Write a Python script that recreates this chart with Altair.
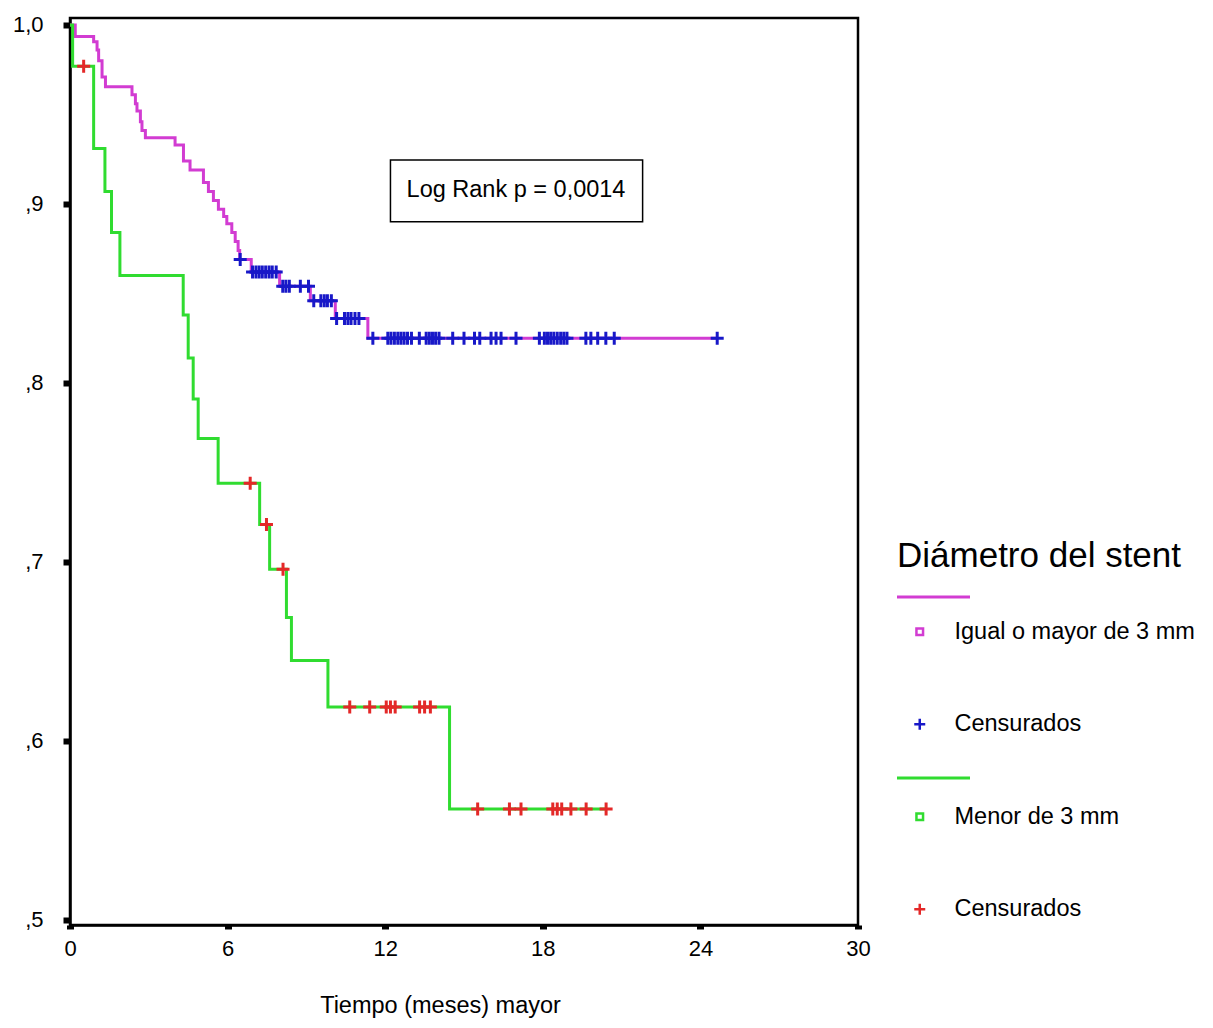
import altair as alt
import pandas as pd

# ---- data ----
# Group "Igual o mayor de 3 mm": step times (months) and survival after each step
big_times = [0.00, 0.20, 0.90, 1.03, 1.09, 1.22, 1.35, 2.36, 2.49, 2.55, 2.68, 2.74,
             2.87, 4.00, 4.32, 4.57, 5.08, 5.27, 5.46, 5.65, 5.85, 5.97, 6.16, 6.29,
             6.40, 6.46, 6.90, 7.98, 9.15, 10.10, 11.34]
big_surv = [1.000, 0.9935, 0.9907, 0.986, 0.980, 0.971, 0.9655, 0.961, 0.956, 0.952,
            0.946, 0.941, 0.937, 0.933, 0.924, 0.919, 0.912, 0.907, 0.902, 0.897,
            0.893, 0.889, 0.884, 0.879, 0.874, 0.869, 0.862, 0.854, 0.846, 0.836, 0.825]
big_end = 24.64
big_censored = [6.48, 6.95, 7.08, 7.20, 7.32, 7.45, 7.58, 7.70, 7.85, 8.10, 8.22, 8.35,
                8.77, 9.08, 9.28, 9.55, 9.68, 9.80, 9.95, 10.15, 10.45, 10.58, 10.70,
                10.85, 11.00, 11.53, 12.10, 12.22, 12.35, 12.48, 12.60, 12.72, 12.85,
                13.00, 13.30, 13.56, 13.68, 13.80, 13.92, 14.05, 14.57, 15.00, 15.40,
                15.60, 16.03, 16.22, 16.41, 16.98, 17.87, 18.06, 18.18, 18.30, 18.42,
                18.55, 18.68, 18.80, 18.92, 19.64, 19.83, 20.09, 20.40, 20.72, 24.64]

# Group "Menor de 3 mm"
small_times = [0.00, 0.10, 0.90, 1.33, 1.58, 1.90, 4.31, 4.50, 4.69, 4.88, 5.64, 7.22,
               7.60, 8.24, 8.43, 9.82, 14.45]
small_surv = [1.000, 0.977, 0.931, 0.907, 0.884, 0.860, 0.838, 0.814, 0.791, 0.769,
              0.744, 0.721, 0.696, 0.669, 0.645, 0.619, 0.562]
small_end = 20.41
small_censored = [0.52, 6.86, 7.48, 8.11, 10.65, 11.41, 12.04, 12.20, 12.38, 13.31,
                  13.50, 13.72, 15.52, 16.73, 17.17, 18.38, 18.55, 18.72, 19.07, 19.65,
                  20.41]

legend_labels = ["Igual o mayor de 3 mm", "Censurados", "Menor de 3 mm", "Censurados "]
legend_colors = ["#D23CD2", "#1818C8", "#30DC30", "#E42828"]

x_ticks = [0, 6, 12, 18, 24, 30]
y_ticks = [0.5, 0.6, 0.7, 0.8, 0.9, 1.0]

log_rank_text = ["Log Rank p = 0,0014"]
log_box_t = [12.2, 21.8]
log_box_s = [0.9246, 0.8901]
log_text_pos = [16.98, 0.9039]

# ---- tables ----
def surv_at(times, surv, t):
    s = surv[0]
    for ti, si in zip(times, surv):
        if ti <= t:
            s = si
    return s

big_df = pd.DataFrame({"tiempo": big_times + [big_end], "surv": big_surv + [big_surv[-1]]})
small_df = pd.DataFrame({"tiempo": small_times + [small_end], "surv": small_surv + [small_surv[-1]]})

cens_rows = []
for t in big_censored:
    cens_rows.append({"tiempo": t, "surv": surv_at(big_times, big_surv, t), "serie": legend_labels[1]})
for t in small_censored:
    cens_rows.append({"tiempo": t, "surv": surv_at(small_times, small_surv, t), "serie": legend_labels[3]})
cens_df = pd.DataFrame(cens_rows)

box_df = pd.DataFrame({"tiempo": [log_box_t[0]], "tiempo2": [log_box_t[1]],
                       "surv": [log_box_s[0]], "surv2": [log_box_s[1]]})
text_df = pd.DataFrame({"tiempo": [log_text_pos[0]], "surv": [log_text_pos[1]], "txt": log_rank_text})
one = pd.DataFrame({"k": [0]})

# ---- scales / axes ----
FONT = "Liberation Sans"
x_scale = alt.Scale(domain=[0, 30], nice=False, zero=False)
y_scale = alt.Scale(domain=[0.4972, 1.0039], nice=False, zero=False)

x_axis = alt.Axis(values=x_ticks, title="Tiempo (meses) mayor", grid=False,
                  tickSize=4, tickWidth=7, labelPadding=9, labelFlush=False,
                  labelFont=FONT, labelFontSize=22,
                  titleFont=FONT, titleFontSize=23.5,
                  titleFontWeight="normal", titleX=370, titleY=87,
                  titleBaseline="alphabetic", titleAlign="center")
y_axis = alt.Axis(values=y_ticks, title=None, grid=False, tickSize=7, tickWidth=6,
                  labelPadding=20, labelFont=FONT, labelFontSize=22, labelFlush=False,
                  labelExpr="datum.value >= 0.999 ? '1,0' : ',' + format(datum.value * 10, '.0f')")

X = alt.X("tiempo:Q", scale=x_scale, axis=x_axis)
Y = alt.Y("surv:Q", scale=y_scale, axis=y_axis)

square_path = "M-0.6,-0.6H0.6V0.6H-0.6Z"
cross_path = "M-1,0H1M0,-1V1"

leg = alt.Legend(title="Diámetro del stent", orient="none", legendX=827, legendY=521,
                 titleFont=FONT, titleFontSize=35, titleFontWeight="normal",
                 titleColor="black", titlePadding=46, titleLimit=600,
                 labelFont=FONT, labelFontSize=23.5, labelColor="black",
                 labelLimit=600, labelOffset=23, rowPadding=67.5, symbolSize=121,
                 symbolStrokeWidth=2.5, symbolOffset=11, padding=0, direction="vertical")

color_enc = alt.Color("serie:N", scale=alt.Scale(domain=legend_labels, range=legend_colors), legend=leg)
shape_enc = alt.Shape("serie:N", scale=alt.Scale(domain=legend_labels,
                      range=[square_path, cross_path, square_path, cross_path]), legend=leg)

big_line = alt.Chart(big_df).mark_line(interpolate="step-after", color=legend_colors[0],
                                       strokeWidth=3).encode(x=X, y=Y)
small_line = alt.Chart(small_df).mark_line(interpolate="step-after", color=legend_colors[2],
                                           strokeWidth=3).encode(x=X, y=Y)
cens = alt.Chart(cens_df).mark_point(filled=False, size=169, strokeWidth=3, opacity=1).encode(
    x=X, y=Y, color=color_enc, shape=shape_enc)

box = alt.Chart(box_df).mark_rect(fill="white", stroke="black", strokeWidth=1.5).encode(
    x=X, x2="tiempo2:Q", y=Y, y2="surv2:Q")
txt = alt.Chart(text_df).mark_text(font=FONT, fontSize=23.5, color="black",
                                   baseline="alphabetic", align="center").encode(
    x=X, y=Y, text="txt:N")

leg_line1 = alt.Chart(one).mark_rule(color=legend_colors[0], strokeWidth=3).encode(
    x=alt.value(827), x2=alt.value(900), y=alt.value(579))
leg_line2 = alt.Chart(one).mark_rule(color=legend_colors[2], strokeWidth=3).encode(
    x=alt.value(827), x2=alt.value(900), y=alt.value(760))

chart = alt.layer(big_line, small_line, cens, box, txt, leg_line1, leg_line2).properties(
    width=788, height=907,
    autosize=alt.AutoSizeParams(type="none"),
    padding={"left": 62, "top": 10, "right": 347, "bottom": 95},
    background="white",
).configure_view(stroke="black", strokeWidth=2.5).configure_axis(
    domainColor="black", domainWidth=2.5, tickColor="black", labelColor="black",
    titleColor="black")

chart.save("out.html", embed_options={"renderer": "svg", "actions": False})
